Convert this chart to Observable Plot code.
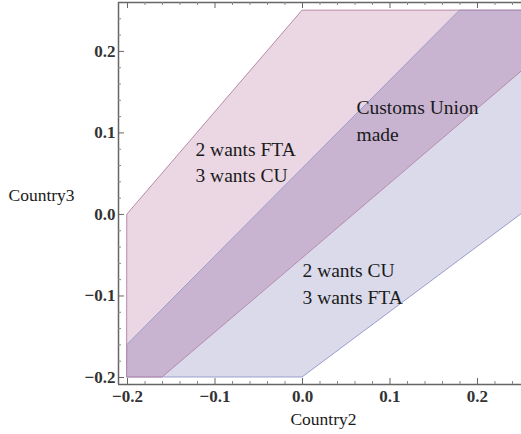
<!DOCTYPE html>
<html>
<head>
<meta charset="utf-8">
<script src="https://cdn.jsdelivr.net/npm/d3@7"></script>
<script src="https://cdn.jsdelivr.net/npm/@observablehq/plot@0.6"></script>
<style>
  html, body { margin: 0; padding: 0; background: #fff; }
  #chart svg { display: block; }
</style>
</head>
<body>
<div id="chart"></div>
<script>
// Band where country 3 wants a customs union (boundary vertices along Country2)
const c3CuX  = [-0.2, -0.16, 0.0, 0.26];
const c3CuLo = [-0.2, -0.2, -0.054, 0.184];
const c3CuHi = [0.0, 0.05, 0.25, 0.25];

// Band where country 2 wants a customs union
const c2CuX  = [-0.2, 0.0, 0.18, 0.26];
const c2CuLo = [-0.2, -0.2, -0.056, 0.008];
const c2CuHi = [-0.16, 0.056, 0.25, 0.25];

// Both want it: the customs union is made
const cuX  = [-0.2, -0.16, 0.18, 0.26];
const cuLo = [-0.2, -0.2, 0.111, 0.184];
const cuHi = [-0.16, -0.117, 0.25, 0.25];

// Tick values
const majorTicks = [-0.2, -0.1, 0.0, 0.1, 0.2];
const minorTicks = [-0.18, -0.16, -0.14, -0.12, -0.08, -0.06, -0.04, -0.02,
                    0.02, 0.04, 0.06, 0.08, 0.12, 0.14, 0.16, 0.18, 0.22, 0.24];

// Region labels
const regionLabels = ["2 wants FTA\n3 wants CU", "Customs Union\nmade", "2 wants CU\n3 wants FTA"];

const W = 521, H = 434;
const mL = 118, mR = 0, mT = 2, mB = 50;
const xDomain = [-0.2103, 0.2503];
const yDomain = [-0.2086, 0.260];
const frameH = H - mT - mB;
const frameW = W - mL - mR;

const serif = "Liberation Serif, Times New Roman, serif";
const fmt = d3.format(".1f");

const band = (xs, lo, hi, fill, stroke) =>
  Plot.areaY(d3.range(xs.length), {
    x: i => xs[i], y1: i => lo[i], y2: i => hi[i],
    fill, stroke, strokeWidth: 1, clip: true
  });

const chart = Plot.plot({
  width: W, height: H,
  marginLeft: mL, marginRight: mR, marginTop: mT, marginBottom: mB,
  style: { fontFamily: serif, background: "#fff" },
  x: { domain: xDomain, axis: null },
  y: { domain: yDomain, axis: null },
  marks: [
    band(c3CuX, c3CuLo, c3CuHi, "#ebd7e3", "none"),
    band(c2CuX, c2CuLo, c2CuHi, "#dadaeb", "none"),
    band(cuX, cuLo, cuHi, "#c8b4d1", "none"),
    // outlines
    band(c2CuX, c2CuLo, c2CuHi, "none", "#9c9ccb"),
    band(c3CuX, c3CuLo, c3CuHi, "none", "#b58aa9"),

    // frame: left, bottom, top
    Plot.ruleX([xDomain[0]], { stroke: "#666", strokeWidth: 1.5 }),
    Plot.ruleY([yDomain[0]], { stroke: "#666", strokeWidth: 1.5 }),
    Plot.ruleY([yDomain[1]], { stroke: "#666", strokeWidth: 1.5 }),

    // inward ticks
    Plot.tickX(majorTicks, { x: d => d, insetTop: frameH - 6, stroke: "#666" }),
    Plot.tickX(minorTicks, { x: d => d, insetTop: frameH - 3, stroke: "#888" }),
    Plot.tickX(majorTicks, { x: d => d, insetBottom: frameH - 6, stroke: "#666" }),
    Plot.tickX(minorTicks, { x: d => d, insetBottom: frameH - 3, stroke: "#888" }),
    Plot.tickY(majorTicks, { y: d => d, insetRight: frameW - 6, stroke: "#666" }),
    Plot.tickY(minorTicks, { y: d => d, insetRight: frameW - 3, stroke: "#888" }),

    // tick labels
    Plot.axisX(majorTicks, { tickSize: 0, tickPadding: 5, tickFormat: fmt, fontSize: 17, fontWeight: "bold", fill: "#333", label: null }),
    Plot.axisY(majorTicks, { tickSize: 0, tickPadding: 3, tickFormat: fmt, fontSize: 17, fontWeight: "bold", fill: "#333", label: null }),

    // axis titles
    Plot.text(["Country2"], { frameAnchor: "bottom", dx: 3.5, dy: 40, fontSize: 17.5, fill: "#1a1a1a" }),
    Plot.text(["Country3"], { frameAnchor: "left", textAnchor: "start", dx: -110, dy: 2, fontSize: 17.5, fill: "#1a1a1a" }),

    // region labels
    Plot.text([regionLabels[0]], { x: -0.1223, y: 0.0663, textAnchor: "start", fontSize: 19.5, lineHeight: 1.38, fill: "#1a1a1a" }),
    Plot.text([regionLabels[1]], { x: 0.0617, y: 0.117, textAnchor: "start", fontSize: 19.5, lineHeight: 1.38, fill: "#1a1a1a" }),
    Plot.text([regionLabels[2]], { x: 0.0, y: -0.0822, textAnchor: "start", fontSize: 19.5, lineHeight: 1.38, fill: "#1a1a1a" })
  ]
});

document.getElementById("chart").appendChild(chart);
</script>
</body>
</html>
